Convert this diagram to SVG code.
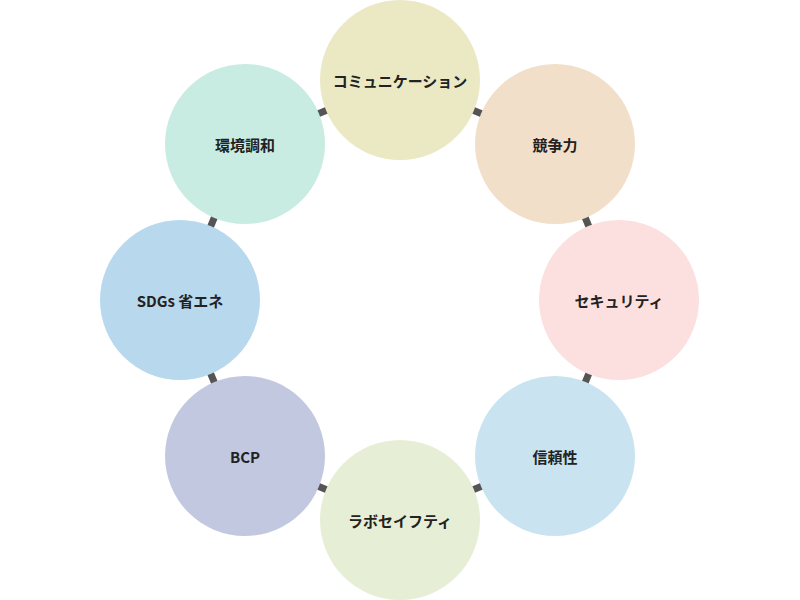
<svg xmlns="http://www.w3.org/2000/svg" width="800" height="600" viewBox="0 0 800 600">
<style>
.l{stroke:#555;stroke-width:7;fill:none}
text{font-family:"Noto Sans CJK JP","Noto Sans",sans-serif;font-size:15px;font-weight:bold;fill:#222;text-anchor:middle;dominant-baseline:central}
</style>
<rect width="800" height="600" fill="#fff"/>
<g id="connectors">
<polygon class="l" points="400,80 555,144 619,300 555,456 400,520 245,456 180,300 245,144"/>
</g>
<g id="n1"><circle cx="400" cy="80" r="80" fill="#ebe8c4"/><text x="400" y="80">コミュニケーション</text></g>
<g id="n2"><circle cx="555" cy="144" r="80" fill="#f2dfc9"/><text x="555" y="144">競争力</text></g>
<g id="n3"><circle cx="619" cy="300" r="80" fill="#fce0e0"/><text x="619" y="300">セキュリティ</text></g>
<g id="n4"><circle cx="555" cy="456" r="80" fill="#c9e4f0"/><text x="555" y="456">信頼性</text></g>
<g id="n5"><circle cx="400" cy="520" r="80" fill="#e7eed6"/><text x="400" y="520">ラボセイフティ</text></g>
<g id="n6"><circle cx="245" cy="456" r="80" fill="#c2c8e0"/><text x="245" y="456">BCP</text></g>
<g id="n7"><circle cx="180" cy="300" r="80" fill="#b8d8ee"/><text x="180" y="300">SDGs 省エネ</text></g>
<g id="n8"><circle cx="245" cy="144" r="80" fill="#c8ece1"/><text x="245" y="144">環境調和</text></g>
</svg>
